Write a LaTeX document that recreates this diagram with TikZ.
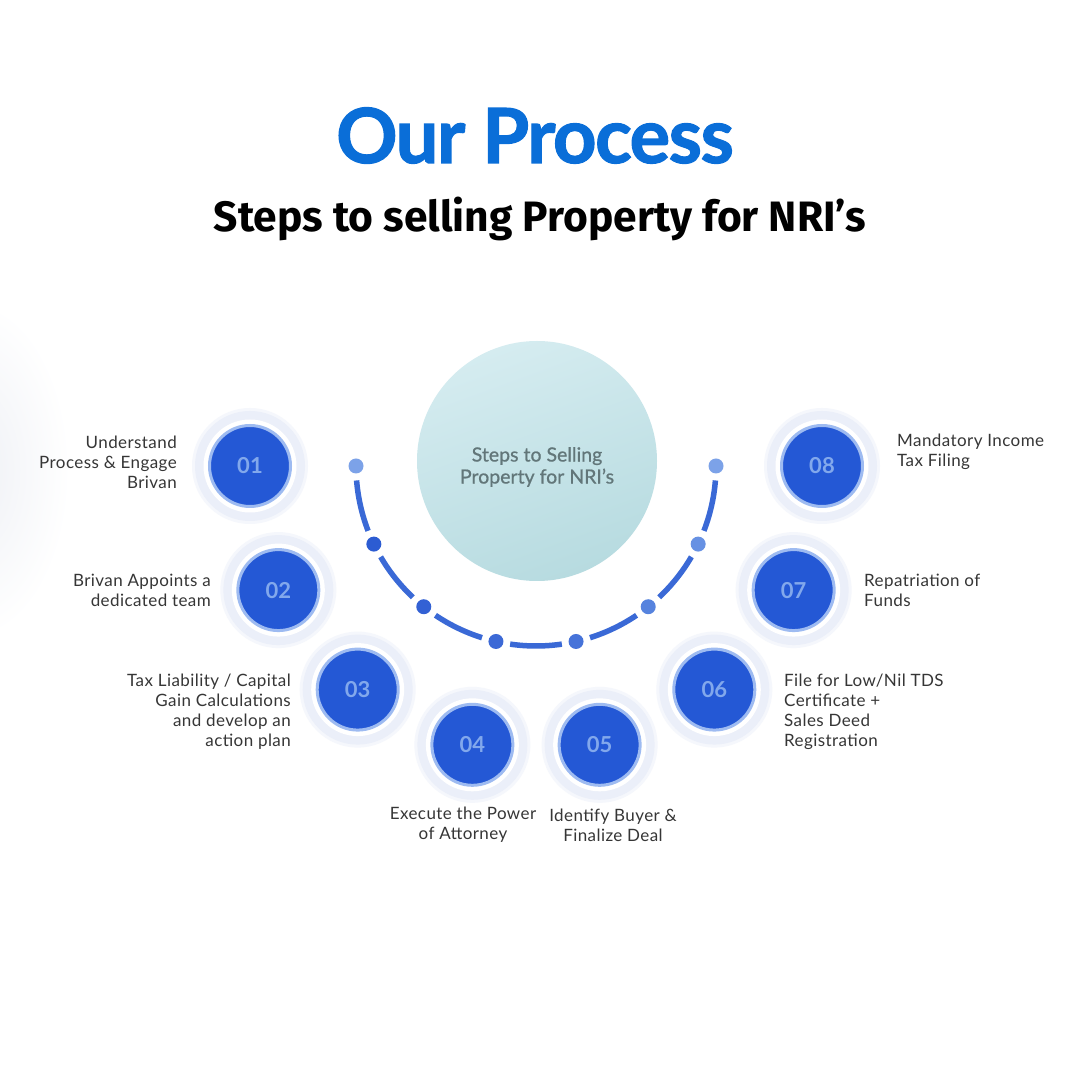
\documentclass[tikz,border=0pt]{standalone}
\usepackage{fontspec}
\setmainfont{Lato}
\newfontfamily\subfont{Fira Sans}
\newfontfamily\titlefont[FakeBold=1.5,LetterSpace=-2]{Lato}
\newfontfamily\hubfont[FakeBold=0.8]{Lato}
\newfontfamily\lblfont[LetterSpace=2.5]{Lato}
\usetikzlibrary{calc}
\definecolor{titleblue}{HTML}{0A6ED8}
\definecolor{stepblue}{HTML}{2458D5}
\definecolor{ringblue}{HTML}{9EBBF1}
\definecolor{numblue}{HTML}{82A8EC}
\definecolor{palering}{HTML}{EBEFF9}
\definecolor{palering2}{HTML}{F5F7FC}
\definecolor{arcblue}{HTML}{3A69D6}
\definecolor{labelgray}{HTML}{363636}
\definecolor{centergray}{HTML}{627679}
\definecolor{tealA}{HTML}{D5ECF0}
\definecolor{tealB}{HTML}{B7DBE0}
\definecolor{haze}{HTML}{EEF0F5}
\tikzset{
  stepbox/.style={circle, minimum size=81pt, inner sep=0pt, fill=stepblue, draw=ringblue, line width=3pt, text=numblue, font=\fontsize{22}{24}\selectfont\bfseries},
  lbl/.style={text=labelgray, font=\lblfont\fontsize{17}{20}\selectfont, inner sep=0pt},
  arcseg/.style={draw=arcblue, line width=5.5pt},
}
\begin{document}
\begin{tikzpicture}[x=1pt,y=1pt]
\useasboundingbox (0,0) rectangle (1080,1080);
\fill[white] (0,0) rectangle (1080,1080);
\shade[inner color=haze, outer color=white] (-30,610) ellipse [x radius=100, y radius=170];

% titles
\node[anchor=base, inner sep=0pt, text=titleblue, font=\titlefont\fontsize{76}{80}\selectfont\bfseries] (title) at (535,917) {Our Process};
\node[anchor=base, inner sep=0pt, font=\subfont\fontsize{42.5}{46}\selectfont\bfseries] (subtitle) at (540,848) {Steps to selling Property for NRI’s};

% center circle
\node[circle, minimum size=240pt, inner sep=0pt, shading=axis, top color=tealA, bottom color=tealB, shading angle=20] (hub) at (537,619) {};
\node[text=centergray, font=\hubfont\fontsize{19.5}{22}\selectfont, align=center, inner sep=0pt] (hubtext) at (537,613) {Steps to Selling\\Property for NRI’s};

% arc with dots
\coordinate (ac) at (536,614);
\foreach \k in {0,...,6} {
  \pgfmathsetmacro{\aa}{180+\k*180/7+4.6}
  \pgfmathsetmacro{\ab}{180+(\k+1)*180/7-4.6}
  \draw[arcseg] ($(ac)+(\aa:180)$) arc[start angle=\aa, end angle=\ab, radius=180];
}
\foreach \k/\c in {0/7CA2E8,1/2C5CD2,2/3361D4,3/3C69D6,4/4673D9,5/5683DE,6/6791E3,7/7CA2E8} {
  \definecolor{dotc}{HTML}{\c}
  \pgfmathsetmacro{\ang}{180+\k*180/7}
  \fill[dotc] ($(ac)+(\ang:180)$) circle (7.5);
}

% steps
\foreach \k/\n in {0/01,1/02,2/03,3/04,4/05,5/06,6/07,7/08} {
  \pgfmathsetmacro{\ang}{180+\k*180/7}
  \coordinate (p\n) at ($(ac)+(\ang:286)$);
  \fill[palering2] (p\n) circle (58);
  \fill[palering] (p\n) circle (55);
  \fill[white] (p\n) circle (46.5);
  \node[stepbox] (s\n) at (p\n) {\n};
}

% labels
\node[lbl, anchor=east, align=right] (l01) at (177,618) {Understand\\Process \& Engage\\Brivan};
\node[lbl, anchor=east, align=right] (l02) at (211,490) {Brivan Appoints a\\dedicated team};
\node[lbl, anchor=east, align=right] (l03) at (291,368) {Tax Liability / Capital\\Gain Calculations\\and develop an\\action plan};
\node[lbl, anchor=center, align=center] (l04) at (463,255) {Execute the Power\\of Attorney};
\node[lbl, anchor=center, align=center] (l05) at (613,255) {Identify Buyer \&\\Finalize Deal};
\node[lbl, anchor=west, align=left] (l06) at (784,368) {File for Low/Nil TDS\\Certificate +\\Sales Deed\\Registration};
\node[lbl, anchor=west, align=left] (l07) at (864,490) {Repatriation of\\Funds};
\node[lbl, anchor=west, align=left] (l08) at (897,628) {Mandatory Income\\Tax Filing};
\end{tikzpicture}
\end{document}
